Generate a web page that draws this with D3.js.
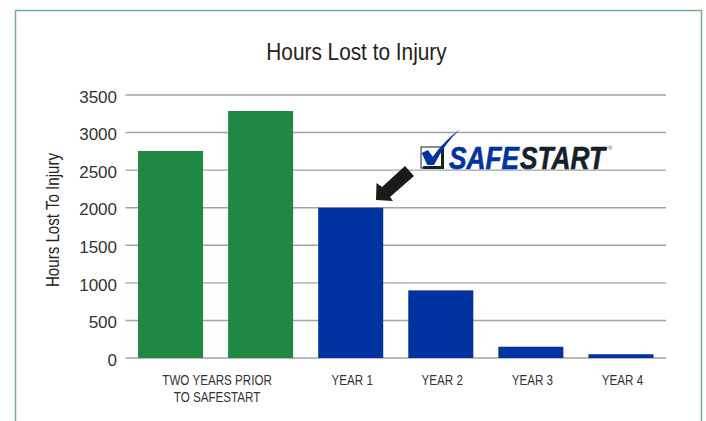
<!DOCTYPE html>
<html>
<head>
<meta charset="utf-8">
<script src="https://cdnjs.cloudflare.com/ajax/libs/d3/7.8.5/d3.min.js"></script>
<style>
  html, body { margin: 0; padding: 0; background: #fff; }
  svg { display: block; }
</style>
</head>
<body>
<div id="chart"></div>
<script>
const categories = ["prior1", "prior2", "year1", "year2", "year3", "year4"];
const hoursLost = [2755, 3287, 2000, 900, 150, 50];
const barColors = ["#1f8943", "#1f8943", "#0033a0", "#0033a0", "#0033a0", "#0033a0"];
const yTicks = [0, 500, 1000, 1500, 2000, 2500, 3000, 3500];
const xLabels = [
    { text: "TWO YEARS PRIOR", from: "prior1", to: "prior2", line: 0 },
    { text: "TO SAFESTART", from: "prior1", to: "prior2", line: 1 },
    { text: "YEAR 1", from: "year1", to: "year1", line: 0 },
    { text: "YEAR 2", from: "year2", to: "year2", line: 0 },
    { text: "YEAR 3", from: "year3", to: "year3", line: 0 },
    { text: "YEAR 4", from: "year4", to: "year4", line: 0 }
];

const width = 706, height = 421;
const margin = { top: 95, right: 40, bottom: 63, left: 125.5 };
const sans = '"Liberation Sans", Arial, sans-serif';

const svg = d3.select("#chart").append("svg")
    .attr("width", width)
    .attr("height", height)
    .attr("viewBox", `0 0 ${width} ${height}`);

// The original type is a condensed face, squeeze the regular one to fit
function condense(selection, factor) {
    selection.each(function () {
        d3.select(this)
            .attr("textLength", this.getComputedTextLength() * factor)
            .attr("lengthAdjust", "spacingAndGlyphs");
    });
}

// Frame, open at the bottom
svg.append("path")
    .attr("d", `M15.5,${height} V10.5 H701.5 V${height}`)
    .attr("fill", "none")
    .attr("stroke", "#6fb287")
    .attr("stroke-width", 1.5);

const chartWidth = width - margin.left - margin.right;
const chartHeight = height - margin.top - margin.bottom;

const xScale = d3.scaleBand()
    .domain(categories)
    .range([margin.left, margin.left + chartWidth])
    .paddingInner(0.278)
    .paddingOuter(0.139);

const yScale = d3.scaleLinear()
    .domain([0, 3500])
    .range([margin.top + chartHeight, margin.top]);

// Y axis and gridlines
const yAxis = svg.append("g")
    .attr("transform", `translate(${margin.left},0)`)
    .call(d3.axisLeft(yScale)
        .tickValues(yTicks)
        .tickFormat(d3.format("d"))
        .tickSize(-chartWidth)
        .tickPadding(8.5)
        .offset(0));

yAxis.select(".domain").remove();
yAxis.selectAll("line")
    .attr("stroke", "#a3a3a6")
    .attr("stroke-width", 1.4);
yAxis.selectAll("text")
    .attr("dy", "0.45em")
    .attr("fill", "#333")
    .style("font-family", sans)
    .style("font-size", "17px");

// Bars
svg.append("g").selectAll("rect")
    .data(categories)
    .join("rect")
    .attr("x", d => xScale(d))
    .attr("y", (d, i) => yScale(hoursLost[i]))
    .attr("width", xScale.bandwidth())
    .attr("height", (d, i) => yScale(0) - yScale(hoursLost[i]))
    .attr("fill", (d, i) => barColors[i]);

// X labels
svg.append("g").selectAll("text")
    .data(xLabels)
    .join("text")
    .attr("x", d => (xScale(d.from) + xScale(d.to) + xScale.bandwidth()) / 2 + 1.5)
    .attr("y", d => 385 + d.line * 17)
    .attr("text-anchor", "middle")
    .attr("fill", "#333")
    .attr("font-family", sans)
    .attr("font-size", 14)
    .text(d => d.text)
    .call(condense, 0.83);

// Title
svg.append("text")
    .attr("x", 356.5)
    .attr("y", 60)
    .attr("text-anchor", "middle")
    .attr("fill", "#222")
    .attr("font-family", sans)
    .attr("font-size", 24)
    .text("Hours Lost to Injury")
    .call(condense, 0.867);

// Y axis label
svg.append("text")
    .attr("transform", "translate(58.5,220) rotate(-90)")
    .attr("text-anchor", "middle")
    .attr("fill", "#222")
    .attr("font-family", sans)
    .attr("font-size", 18)
    .text("Hours Lost To Injury")
    .call(condense, 0.84);

// Arrow pointing at year 1
svg.append("path")
    .attr("d", "M376,200 L376.5,183 L382,187 L405,166 L414,176 L390,197 L393,201 Z")
    .attr("fill", "#1a1a1a");

// Logo
const logo = svg.append("g");
logo.append("rect")
    .attr("x", 421).attr("y", 147).attr("width", 22).attr("height", 21)
    .attr("fill", "#fff").attr("stroke", "#14202b").attr("stroke-width", 1);
logo.append("path")
    .attr("d", "M441,148 H444 V169 H423 V166 H441 Z")
    .attr("fill", "#14202b");
logo.append("path")
    .attr("d", "M421.7,153 L428,150 L432.7,156.7 Q445,140 460,129.3 Q445,143 434,165 L427.3,165 Z")
    .attr("fill", "#0033a0");

// Two separate words so each colour can be fitted on its own
logo.selectAll("text.word")
    .data([
        { text: "SAFE", x: 449, length: 70, color: "#0033a0" },
        { text: "START", x: 520, length: 85, color: "#14202b" }
    ])
    .join("text")
    .attr("class", "word")
    .attr("x", d => d.x)
    .attr("y", 168.5)
    .attr("font-family", sans)
    .attr("font-size", 32)
    .attr("font-weight", "bold")
    .attr("font-style", "italic")
    .attr("fill", d => d.color)
    .attr("stroke", d => d.color)
    .attr("stroke-width", 0.6)
    .attr("textLength", d => d.length)
    .attr("lengthAdjust", "spacingAndGlyphs")
    .text(d => d.text);

logo.append("text")
    .attr("x", 608).attr("y", 150)
    .attr("font-family", sans).attr("font-size", 6).attr("fill", "#555")
    .text("®");
</script>
</body>
</html>
